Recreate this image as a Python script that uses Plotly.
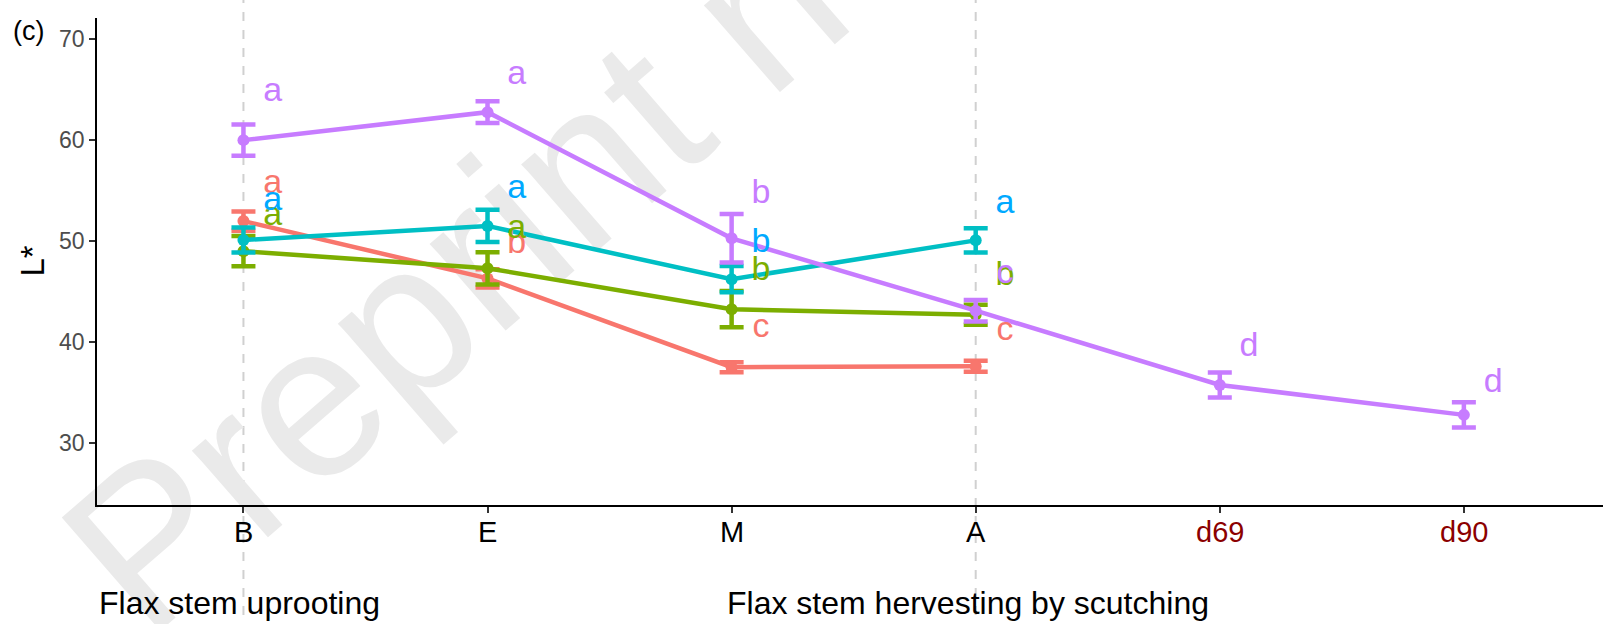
import math
import plotly.graph_objects as go

categories = ["B", "E", "M", "A", "d69", "d90"]
tick_colors = ["black", "black", "black", "black", "#8B0000", "#8B0000"]
y_ticks = [30, 40, 50, 60, 70]

red_mean = [51.98, 46.3, 37.5, 37.6]
red_se = [0.95, 0.9, 0.5, 0.55]
red_letters = ["a", "b", "c", "c"]
red_letter_y = [55.6, 49.7, 41.3, 41.0]

green_mean = [49.0, 47.3, 43.25, 42.7]
green_se = [1.5, 1.6, 1.8, 1.0]
green_letters = ["a", "a", "b", "b"]
green_letter_y = [52.4, 51.1, 47.0, 46.5]

cyan_mean = [50.1, 51.5, 46.22, 50.07]
cyan_se = [1.24, 1.6, 1.3, 1.2]
cyan_letters = ["a", "a", "b", "a"]
cyan_letter_y = [53.9, 55.1, 49.8, 53.6]

purple_mean = [60.0, 62.77, 50.27, 43.1, 35.74, 32.78]
purple_se = [1.55, 1.07, 2.4, 1.07, 1.24, 1.24]
purple_letters = ["a", "a", "b", "c", "d", "d"]
purple_letter_y = [64.7, 66.4, 54.6, 46.7, 39.5, 35.9]

series = [
    (red_mean, red_se, red_letters, red_letter_y, "#F8766D", "#F8766D"),
    (green_mean, green_se, green_letters, green_letter_y, "#7CAE00", "#7CAE00"),
    (cyan_mean, cyan_se, cyan_letters, cyan_letter_y, "#00BFC4", "#00A9FF"),
    (purple_mean, purple_se, purple_letters, purple_letter_y, "#C77CFF", "#C77CFF"),
]

FONT = "Arial, Liberation Sans, sans-serif"
W, H = 1603, 624
ML, MT, MB, MR = 97, 18, 119, 0
PW, PH = W - ML - MR, H - MT - MB

def px(xp):
    return (xp - ML) / PW

def py(yp):
    return (H - MB - yp) / PH

fig = go.Figure()

for mean, se, letters, ly, col, lcol in series:
    xs = list(range(len(mean)))
    fig.add_trace(go.Scatter(
        x=xs, y=mean, mode="lines+markers",
        line=dict(color=col, width=4.5),
        marker=dict(color=col, size=12),
        error_y=dict(type="data", array=se, color=col, thickness=4.5, width=12),
        showlegend=False, hoverinfo="skip",
    ))

for mean, se, letters, ly, col, lcol in series:
    xs = [i + 0.12 for i in range(len(mean))]
    fig.add_trace(go.Scatter(
        x=xs, y=ly, mode="text", text=letters,
        textposition="middle center",
        textfont=dict(color=lcol, size=34, family=FONT),
        showlegend=False, hoverinfo="skip",
    ))

# dashed vertical guides at B and A
for xv in [0, 3]:
    fig.add_shape(type="line", xref="x", yref="paper", x0=xv, x1=xv, y0=-0.3, y1=1.05,
                  line=dict(color="#D0D0D0", width=2, dash="dash"), layer="below")

# watermark
f_wm = 218
half = 1300
ang = math.radians(41)
ux, uy = math.cos(ang), -math.sin(ang)
mx, my = 1130, -175
fig.add_shape(type="line", xref="paper", yref="paper",
              x0=px(mx - half * ux), y0=py(my - half * uy),
              x1=px(mx + half * ux), y1=py(my + half * uy),
              line=dict(color="rgba(0,0,0,0)", width=0), layer="below",
              label=dict(text="Preprint not peer reviewed",
                         font=dict(size=f_wm, color="#EAEAEA", family=FONT),
                         textposition="middle"))

# tick labels
for i, (t, c) in enumerate(zip(categories, tick_colors)):
    fig.add_annotation(text=t, xref="x", yref="paper", x=i, y=py(532),
                       showarrow=False, xanchor="center", yanchor="middle",
                       font=dict(size=29, family=FONT, color=c))
for v in y_ticks:
    fig.add_annotation(text=str(v), xref="paper", yref="y", x=px(87), y=v,
                       showarrow=False, xanchor="right", yanchor="middle",
                       font=dict(size=23, family=FONT, color="#4D4D4D"))

fig.update_xaxes(
    range=[-0.6, 5.57], tickvals=list(range(len(categories))), showticklabels=False,
    showline=True, linecolor="black", linewidth=2, ticks="outside", ticklen=6,
    tickwidth=2, tickcolor="#333333", showgrid=False, zeroline=False,
)
fig.update_yaxes(
    range=[23.85, 72.1], tickvals=y_ticks, showticklabels=False,
    showline=True, linecolor="black", linewidth=2, ticks="outside", ticklen=6,
    tickwidth=2, tickcolor="#333333", showgrid=False, zeroline=False,
)

fig.add_annotation(text="L*", xref="paper", yref="paper", x=px(32), y=0.5,
                   textangle=-90, showarrow=False, xanchor="center", yanchor="middle",
                   font=dict(size=33, family=FONT, color="black"))
fig.add_annotation(text="(c)", xref="paper", yref="paper", x=px(11), y=py(31),
                   showarrow=False, xanchor="left", yanchor="middle",
                   font=dict(size=27, family=FONT, color="black"))
fig.add_annotation(text="Flax stem uprooting", xref="paper", yref="paper", x=px(97), y=py(603),
                   showarrow=False, xanchor="left", yanchor="middle",
                   font=dict(size=32, family=FONT, color="black"))
fig.add_annotation(text="Flax stem hervesting by scutching", xref="paper", yref="paper", x=px(725), y=py(603),
                   showarrow=False, xanchor="left", yanchor="middle",
                   font=dict(size=32, family=FONT, color="black"))

fig.update_layout(
    width=W, height=H, margin=dict(l=ML, r=MR, t=MT, b=MB),
    paper_bgcolor="white", plot_bgcolor="rgba(0,0,0,0)",
    font=dict(family=FONT),
)

fig.write_html("out.html")
